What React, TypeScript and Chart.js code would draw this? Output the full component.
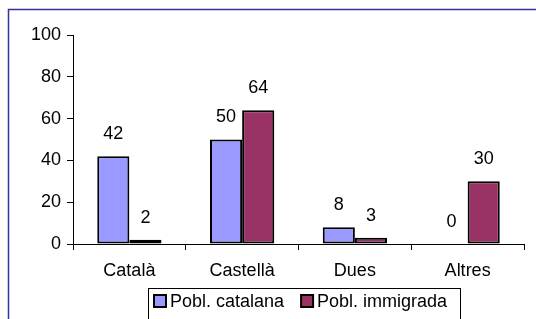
import React, { useEffect, useRef } from "react";
import { Chart, registerables } from "chart.js";

Chart.register(...registerables);

const categories = ["Català", "Castellà", "Dues", "Altres"];
const seriesNames = ["Pobl. catalana", "Pobl. immigrada"];
const catalana = [42, 50, 8, 0];
const immigrada = [2, 64, 3, 30];
const yTicks = [0, 20, 40, 60, 80, 100];

const FONT = "'Liberation Sans', Arial, sans-serif";
const FS = 18;
const colors = ["#9999FF", "#993366"];

const framePlugin = {
  id: "frame",
  beforeDraw(chart: any) {
    const ctx = chart.ctx;
    ctx.save();
    ctx.fillStyle = "#fff";
    ctx.fillRect(0, 0, chart.width, chart.height);
    ctx.strokeStyle = "#333399";
    ctx.lineWidth = 1.5;
    ctx.strokeRect(8.5, 9.5, chart.width + 50, chart.height + 50);
    ctx.restore();
  },
};

const labelPlugin = {
  id: "valueLabels",
  afterDatasetsDraw(chart: any) {
    const ctx = chart.ctx;
    ctx.save();
    ctx.font = `${FS}px ${FONT}`;
    ctx.fillStyle = "#000";
    ctx.textAlign = "center";
    ctx.textBaseline = "middle";
    chart.data.datasets.forEach((ds: any, i: number) => {
      const meta = chart.getDatasetMeta(i);
      meta.data.forEach((bar: any, j: number) => {
        ctx.fillText(String(ds.data[j]), bar.x, bar.y - 22);
      });
    });
    ctx.restore();
  },
};

const legendPlugin = {
  id: "boxLegend",
  afterDraw(chart: any) {
    const ctx = chart.ctx;
    ctx.save();
    ctx.strokeStyle = "#000";
    ctx.lineWidth = 1;
    ctx.strokeRect(148.5, 288.5, 312, 40);
    ctx.font = `${FS}px ${FONT}`;
    ctx.textBaseline = "middle";
    ctx.textAlign = "left";
    let x = 154;
    chart.data.datasets.forEach((ds: any) => {
      ctx.fillStyle = ds.backgroundColor;
      ctx.fillRect(x, 295, 12, 12);
      ctx.strokeStyle = "#000";
      ctx.lineWidth = 2;
      ctx.strokeRect(x, 295, 12, 12);
      ctx.fillStyle = "#000";
      const tx = x + 16;
      ctx.fillText(ds.label, tx, 302);
      x = tx + ctx.measureText(ds.label).width + 17;
    });
    ctx.restore();
  },
};

export default function App() {
  const ref = useRef<HTMLCanvasElement>(null);
  useEffect(() => {
    if (!ref.current) return;
    const chart = new Chart(ref.current, {
      type: "bar",
      data: {
        labels: categories,
        datasets: [
          {
            label: seriesNames[0],
            data: catalana,
            backgroundColor: colors[0],
            borderColor: "#000",
            borderWidth: 2,
            borderSkipped: false,
            categoryPercentage: 0.57,
            barPercentage: 1,
          },
          {
            label: seriesNames[1],
            data: immigrada,
            backgroundColor: colors[1],
            borderColor: "#000",
            borderWidth: 2,
            borderSkipped: false,
            categoryPercentage: 0.57,
            barPercentage: 1,
          },
        ],
      },
      options: {
        responsive: false,
        animation: false,
        devicePixelRatio: 1,
        layout: { padding: { top: 35, right: 12, left: 0, bottom: 0 } },
        plugins: {
          legend: { display: false },
          tooltip: { enabled: false },
        },
        scales: {
          x: {
            grid: {
              display: true,
              drawOnChartArea: false,
              drawTicks: true,
              tickLength: 6,
              color: "#000",
              offset: true,
            },
            border: { display: true, color: "#000", width: 1 },
            ticks: { color: "#000", font: { size: FS, family: FONT }, padding: 10 },
            afterFit: (s: any) => {
              s.height = 75;
            },
          },
          y: {
            min: 0,
            max: 100,
            afterBuildTicks: (s: any) => {
              s.ticks = yTicks.map((v) => ({ value: v }));
            },
            grid: {
              display: true,
              drawOnChartArea: false,
              drawTicks: true,
              tickLength: 6,
              color: "#000",
            },
            border: { display: true, color: "#000", width: 1 },
            ticks: { color: "#000", font: { size: FS, family: FONT }, padding: 6 },
            afterFit: (s: any) => {
              s.width = 73;
            },
          },
        },
      },
      plugins: [framePlugin, labelPlugin, legendPlugin],
    });
    return () => chart.destroy();
  }, []);
  return (
    <div style={{ position: "fixed", left: 0, top: 0, width: 536, height: 319 }}>
      <canvas ref={ref} width={536} height={319} />
    </div>
  );
}
